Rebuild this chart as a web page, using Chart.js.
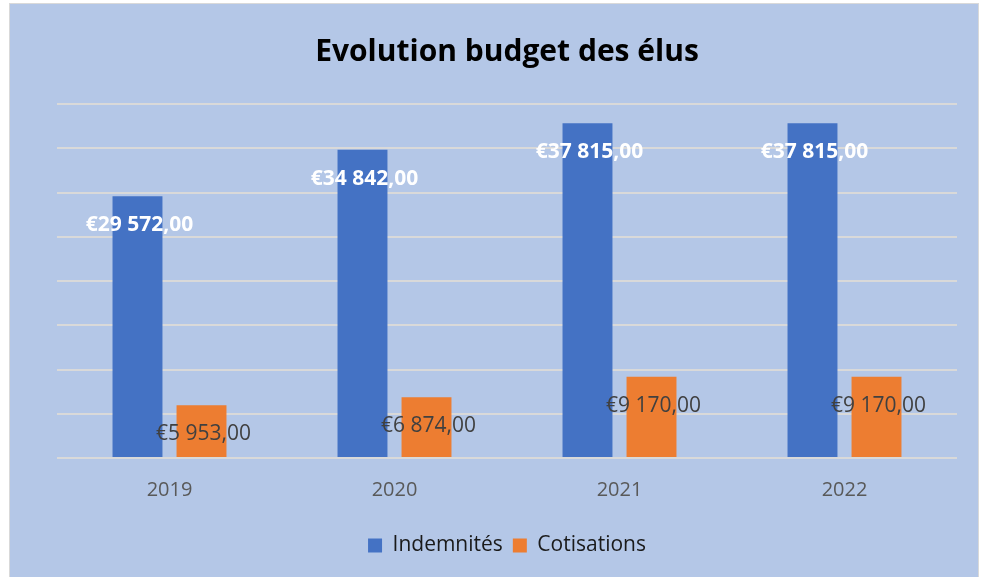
<!DOCTYPE html>
<html>
<head>
<meta charset="utf-8">
<script src="https://cdn.jsdelivr.net/npm/chart.js@4/dist/chart.umd.min.js"></script>
<style>
    html, body { margin: 0; padding: 0; background: #fff; overflow: hidden; }
    #box {
        position: absolute; left: 9px; top: 3px;
        width: 968px; height: 600px;
        border: 1px solid #d9d9d9;
        background: #b4c7e7;
    }
    #chart { display: block; }
</style>
</head>
<body>
<div id="box"><canvas id="chart" width="968" height="590"></canvas></div>
<script>
const years = ['2019', '2020', '2021', '2022'];
const indemnites = [29572, 34842, 37815, 37815];
const cotisations = [5953, 6874, 9170, 9170];

function euro(v) {
    const parts = v.toFixed(2).split('.');
    const ent = parts[0].replace(/\B(?=(\d{3})+(?!\d))/g, ' ');
    return '€' + ent + ',' + parts[1];
}

// labels drawn a bit under the top of each bar, like the original
const barLabels = {
    id: 'barLabels',
    afterDatasetsDraw(chart) {
        const ctx = chart.ctx;
        chart.data.datasets.forEach((ds, i) => {
            const meta = chart.getDatasetMeta(i);
            ctx.save();
            ctx.textAlign = 'center';
            ctx.textBaseline = 'middle';
            if (i === 0) {
                ctx.fillStyle = '#ffffff';
                ctx.font = 'bold 21px "Open Sans"';
            } else {
                ctx.fillStyle = '#404040';
                ctx.font = '21px "Open Sans"';
            }
            meta.data.forEach((bar, j) => {
                ctx.fillText(euro(ds.data[j]), bar.x + 2, bar.y + 29);
            });
            ctx.restore();
        });
    }
};

new Chart(document.getElementById('chart'), {
    type: 'bar',
    data: {
        labels: years,
        datasets: [
            {
                label: 'Indemnités',
                data: indemnites,
                backgroundColor: '#4472c4',
                categoryPercentage: 0.569,
                barPercentage: 0.78
            },
            {
                label: 'Cotisations',
                data: cotisations,
                backgroundColor: '#ed7d31',
                categoryPercentage: 0.569,
                barPercentage: 0.78
            }
        ]
    },
    options: {
        responsive: false,
        animation: false,
        layout: { padding: { left: 47, right: 21, top: 0, bottom: 28 } },
        plugins: {
            title: {
                display: true,
                text: 'Evolution budget des élus',
                color: '#000',
                font: { family: 'Open Sans', size: 30, weight: 'bold' },
                padding: { top: 30, bottom: 34 }
            },
            legend: {
                position: 'bottom',
                labels: {
                    color: '#1a1a1a',
                    font: { family: 'Open Sans', size: 21 },
                    boxWidth: 14,
                    boxHeight: 14,
                    padding: 10
                }
            },
            tooltip: { enabled: false }
        },
        scales: {
            x: {
                grid: { display: false },
                border: { display: false },
                ticks: {
                    color: '#595959',
                    font: { family: 'Open Sans', size: 20 },
                    padding: 12
                },
                afterFit(axis) { axis.height = 67; }
            },
            y: {
                min: 0,
                max: 40000,
                ticks: { display: false, stepSize: 5000 },
                grid: { color: '#d9d9d9', lineWidth: 2, drawTicks: false },
                border: { display: false }
            }
        }
    },
    plugins: [barLabels]
});
</script>
</body>
</html>
